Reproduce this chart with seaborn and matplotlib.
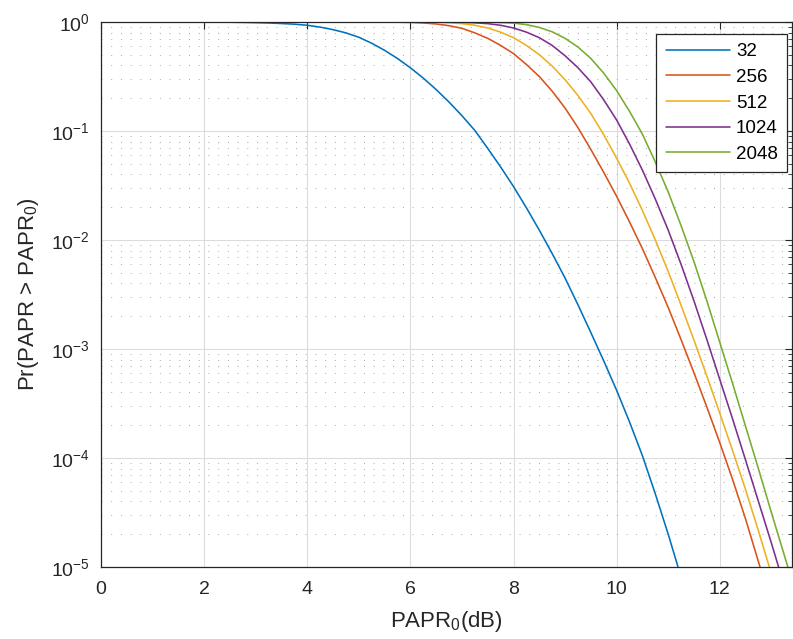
import matplotlib
matplotlib.use("Agg")
import matplotlib.pyplot as plt
import seaborn as sns
import pandas as pd
import numpy as np
from matplotlib.ticker import LogLocator, FixedLocator, NullFormatter

# ---- data (x in dB, values are log10 Pr(PAPR > PAPR0)) ----
labels = ["32", "256", "512", "1024", "2048"]
colors = ["#0072BD", "#D95319", "#EDB120", "#7E2F8E", "#77AC30"]

x_32 = [0, 1, 1.5, 2, 2.25, 2.5, 2.75, 3, 3.25, 3.5, 3.75, 4, 4.25, 4.5, 4.75, 5, 5.25, 5.5,
        5.75, 6, 6.25, 6.5, 6.75, 7, 7.25, 7.5, 7.75, 8, 8.25, 8.5, 8.75, 9, 9.25, 9.5, 9.75,
        10, 10.25, 10.5, 10.75, 11, 11.19]
log_32 = [0, 0, -0.0002, -0.0005, -0.001, -0.002, -0.0035, -0.006, -0.009, -0.014, -0.02,
          -0.03, -0.047, -0.07, -0.1, -0.14, -0.195, -0.26, -0.335, -0.42, -0.515, -0.62,
          -0.735, -0.86, -0.995, -1.16, -1.33, -1.51, -1.705, -1.91, -2.125, -2.35, -2.595,
          -2.85, -3.11, -3.38, -3.67, -3.98, -4.33, -4.7, -5.0]

x_256 = [0, 4.5, 5, 5.5, 5.75, 6, 6.25, 6.5, 6.75, 7, 7.25, 7.5, 7.75, 8, 8.25, 8.5, 8.75, 9,
         9.25, 9.5, 9.75, 10, 10.25, 10.5, 10.75, 11, 11.25, 11.5, 11.75, 12, 12.25, 12.5, 12.78]
log_256 = [0, -0.0001, -0.0003, -0.001, -0.002, -0.004, -0.009, -0.018, -0.034, -0.058, -0.1,
           -0.15, -0.215, -0.29, -0.39, -0.5, -0.635, -0.79, -0.97, -1.17, -1.38, -1.6,
           -1.835, -2.08, -2.345, -2.62, -2.915, -3.22, -3.535, -3.86, -4.2, -4.56, -5.0]

x_512 = [0, 5, 5.5, 6, 6.25, 6.5, 6.75, 7, 7.25, 7.5, 7.75, 8, 8.25, 8.5, 8.75, 9, 9.25, 9.5,
         9.75, 10, 10.25, 10.5, 10.75, 11, 11.25, 11.5, 11.75, 12, 12.25, 12.5, 12.75, 12.96]
log_512 = [0, -0.0001, -0.0002, -0.0008, -0.0015, -0.003, -0.007, -0.015, -0.03, -0.055,
           -0.093, -0.144, -0.215, -0.3, -0.405, -0.53, -0.675, -0.84, -1.035, -1.25, -1.48,
           -1.73, -2.0, -2.29, -2.6, -2.92, -3.25, -3.59, -3.935, -4.29, -4.67, -5.0]

x_1024 = [0, 6, 6.5, 6.75, 7, 7.25, 7.5, 7.75, 8, 8.25, 8.5, 8.75, 9, 9.25, 9.5, 9.75, 10,
          10.25, 10.5, 10.75, 11, 11.25, 11.5, 11.75, 12, 12.25, 12.5, 12.75, 13, 13.14]
log_1024 = [0, -0.0001, -0.0006, -0.0015, -0.003, -0.0075, -0.015, -0.03, -0.055, -0.093,
            -0.144, -0.215, -0.31, -0.42, -0.55, -0.715, -0.9, -1.12, -1.36, -1.625, -1.91,
            -2.225, -2.56, -2.915, -3.28, -3.645, -4.02, -4.4, -4.78, -5.0]

x_2048 = [0, 6.5, 7, 7.5, 7.75, 8, 8.25, 8.5, 8.75, 9, 9.25, 9.5, 9.75, 10, 10.25, 10.5, 10.75,
          11, 11.25, 11.5, 11.75, 12, 12.25, 12.5, 12.75, 13, 13.32]
log_2048 = [0, -0.0001, -0.0005, -0.002, -0.005, -0.01, -0.024, -0.05, -0.09, -0.15, -0.23,
            -0.335, -0.47, -0.63, -0.82, -1.03, -1.285, -1.56, -1.87, -2.2, -2.56, -2.94,
            -3.32, -3.71, -4.1, -4.5, -5.0]

series_x = [x_32, x_256, x_512, x_1024, x_2048]
series_log = [log_32, log_256, log_512, log_1024, log_2048]

frames = []
for lab, xs, ls in zip(labels, series_x, series_log):
    frames.append(pd.DataFrame({"PAPR0": xs, "P": 10.0 ** np.array(ls), "N": lab}))
df = pd.concat(frames, ignore_index=True)

# ---- style ----
sns.set_style("white")
plt.rcParams["font.family"] = ["Liberation Sans", "DejaVu Sans"]
plt.rcParams["mathtext.fontset"] = "custom"
plt.rcParams["mathtext.rm"] = "Liberation Sans"
plt.rcParams["mathtext.it"] = "Liberation Sans"
plt.rcParams["mathtext.bf"] = "Liberation Sans"
plt.rcParams["mathtext.sf"] = "Liberation Sans"

txt = "#262626"
fig = plt.figure(figsize=(7.93, 6.39), dpi=100)
ax = fig.add_axes([101 / 793, 72 / 639, 691 / 793, 545 / 639])

sns.lineplot(data=df, x="PAPR0", y="P", hue="N", hue_order=labels, palette=colors,
             sort=False, linewidth=1.15, ax=ax, legend=True)

ax.set_yscale("log")
ax.set_xlim(0, 13.4)
ax.set_ylim(1e-5, 1)

ax.xaxis.set_major_locator(FixedLocator([0, 2, 4, 6, 8, 10, 12]))
ax.yaxis.set_major_locator(LogLocator(base=10, numticks=10))
ax.yaxis.set_minor_locator(LogLocator(base=10, subs=np.arange(2, 10), numticks=20))
ax.yaxis.set_minor_formatter(NullFormatter())

ax.grid(True, which="major", color="#dcdcdc", linewidth=0.8, linestyle="-")
ax.grid(True, which="minor", axis="y", color="#a8a8a8", linewidth=0.7, linestyle=(0, (1, 9)))
ax.set_axisbelow(True)

ax.tick_params(axis="both", which="both", direction="in", top=True, right=True,
               colors=txt, labelcolor=txt)
ax.tick_params(axis="both", which="major", length=5, width=0.8, labelsize=14)
ax.tick_params(axis="x", which="major", pad=10)
ax.tick_params(axis="y", which="major", pad=8)
ax.tick_params(axis="y", which="minor", length=3, width=0.6)
for sp in ax.spines.values():
    sp.set_color(txt)
    sp.set_linewidth(0.9)

ax.set_xlabel(r"PAPR$_0$(dB)", fontsize=16, color=txt)
ax.set_ylabel(r"Pr(PAPR > PAPR$_0$)", fontsize=16, color=txt)
ax.xaxis.set_label_coords(0.5, -0.077)
ax.yaxis.set_label_coords(-0.087, 0.5)

handles, labs = ax.get_legend_handles_labels()
leg = ax.legend(handles, labs, loc="upper right", bbox_to_anchor=(0.9933, 0.978),
                borderaxespad=0, fontsize=13.5, frameon=True, fancybox=False,
                framealpha=1, edgecolor=txt, handlelength=3.4, handletextpad=0.35,
                labelspacing=0.45, borderpad=0.5)
leg.get_frame().set_linewidth(0.9)
for t in leg.get_texts():
    t.set_color("#000000")

fig.savefig("out.png", dpi=100)
